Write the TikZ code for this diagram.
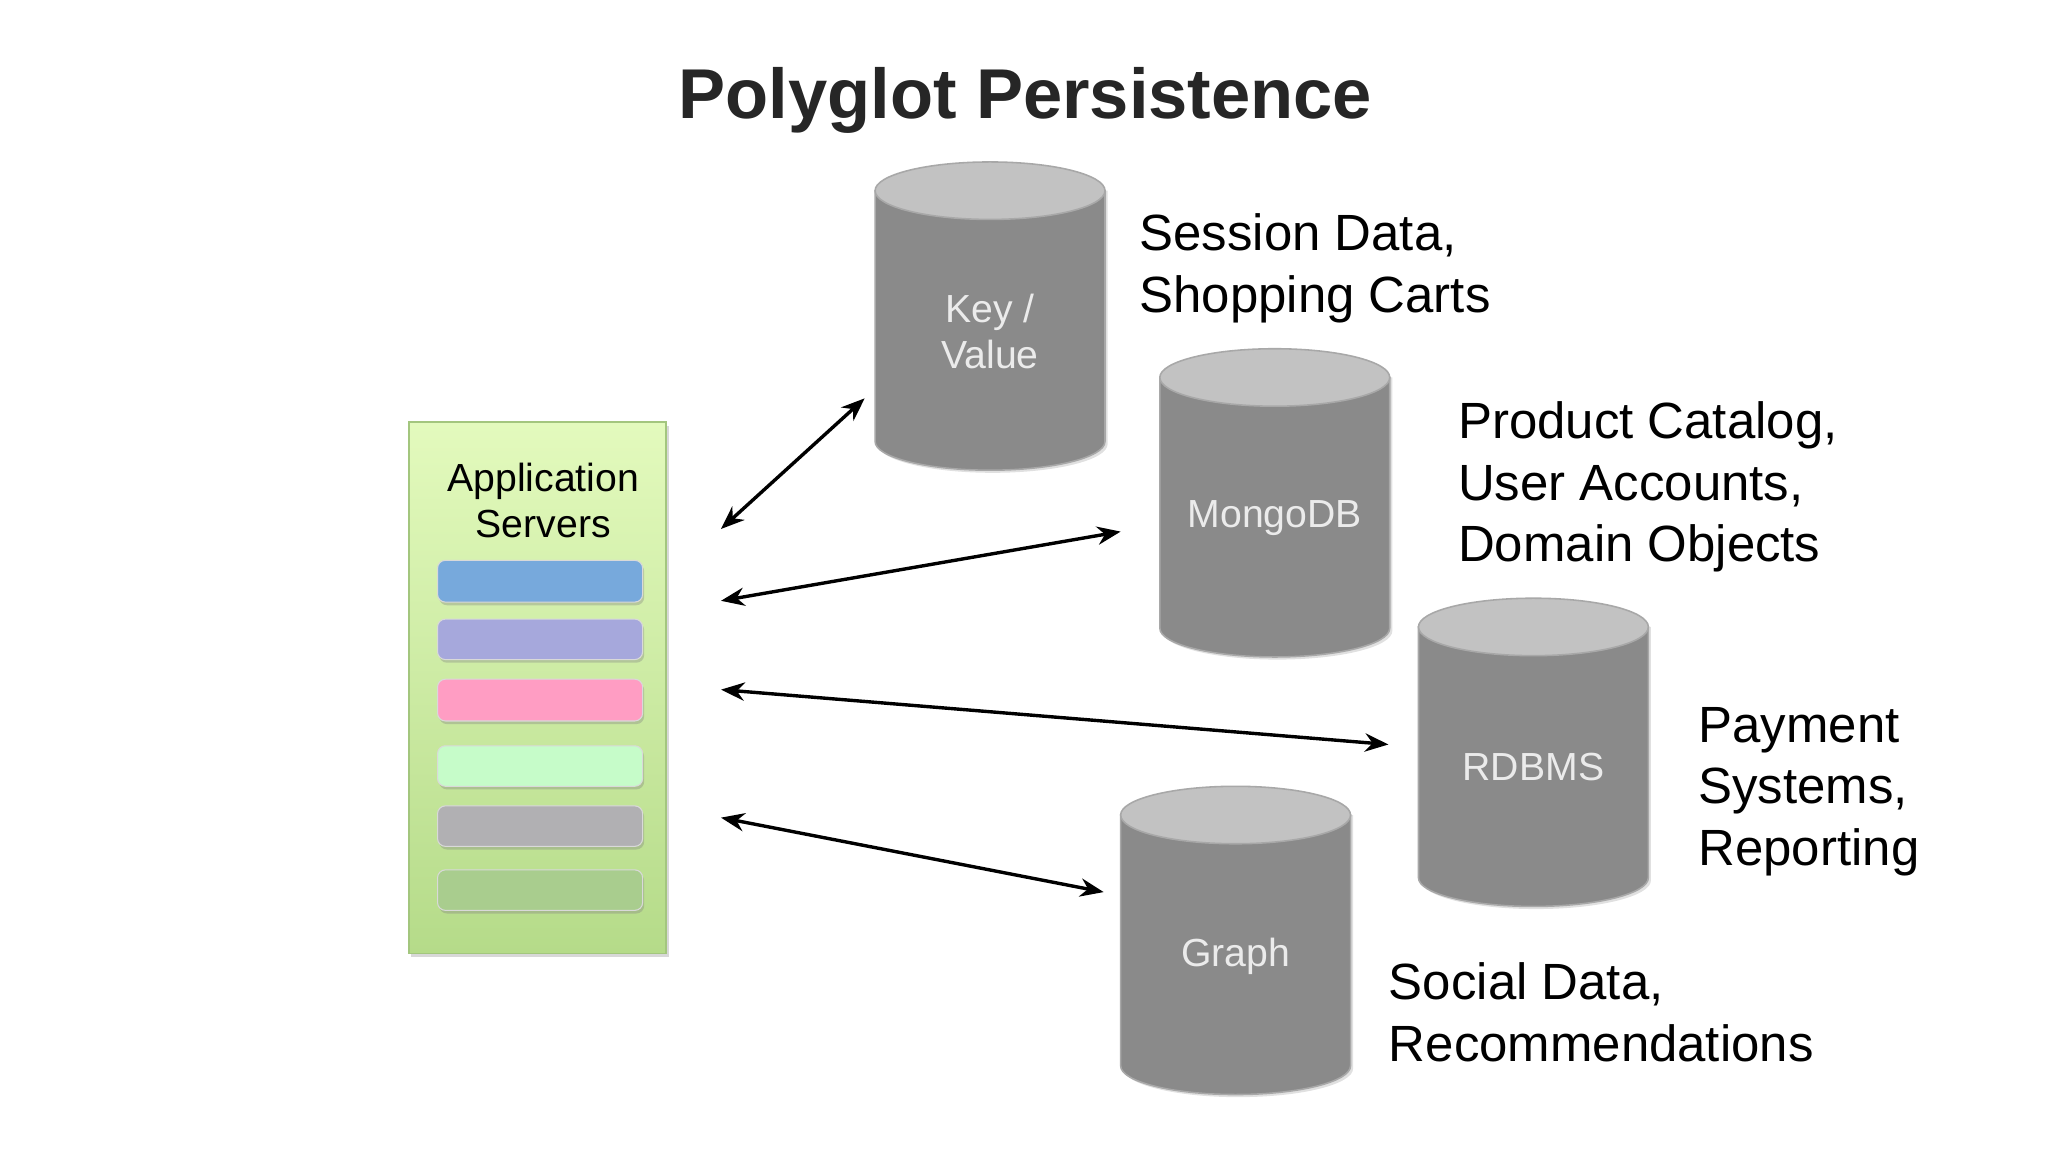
\documentclass[tikz,border=0pt]{standalone}
\usepackage{fontspec}
\setmainfont{Liberation Sans}
\usetikzlibrary{arrows.meta,shadows}
\definecolor{cylbody}{HTML}{8A8A8A}
\definecolor{cyltop}{HTML}{C2C2C2}
\definecolor{cylline}{HTML}{A8A8A8}
\definecolor{boxtop}{HTML}{E3FABD}
\definecolor{boxbot}{HTML}{B5DB89}
\definecolor{boxline}{HTML}{A3C67E}
\tikzset{
  x=0.5pt,y=-0.5pt,
  conn/.style={{Stealth[length=9pt,width=7pt]}-{Stealth[length=9pt,width=7pt]},line width=1.3pt,black},
  bar/.style={rounded corners=3pt,draw=black!15,line width=0.4pt,drop shadow={shadow xshift=0.6pt,shadow yshift=-1.2pt,opacity=0.35}},
  lbl/.style={font=\fontsize{19.5}{23.5}\selectfont,align=left,anchor=west,inner sep=0pt},
  cyltxt/.style={font=\fontsize{15}{17.5}\selectfont,text=white!92!black,align=center,inner sep=0pt},
}
\newcommand{\dbcyl}[5]{% name, cx, top ellipse centre y, label y, text
  \fill[black,opacity=0.12] (#2-86,#3) -- (#2-86,#3+194) arc[start angle=180,end angle=0,x radius=88,y radius=22] -- (#2+90,#3) -- cycle;
  \draw[cylline,fill=cylbody,line width=0.6pt] (#2-88,#3) -- (#2-88,#3+192) arc[start angle=180,end angle=0,x radius=88,y radius=22] -- (#2+88,#3) -- cycle;
  \draw[cylline,fill=cyltop,line width=0.6pt] (#2,#3) ellipse[x radius=88,y radius=22];
  \node[cyltxt] (#1) at (#2,#4) {#5};
}
\begin{document}
\begin{tikzpicture}
\useasboundingbox (0,0) rectangle (1568,882);
\fill[white] (0,0) rectangle (1568,882);
\node[font=\fontsize{27}{32}\bfseries\selectfont,text=black!85] (title) at (785,77) {Polyglot Persistence};

% application servers
\shade[top color=boxtop,bottom color=boxbot,drop shadow={shadow xshift=1pt,shadow yshift=-1.5pt,opacity=0.3}] (313,323) rectangle (510,730);
\draw[boxline,line width=0.6pt] (313,323) rectangle (510,730);
\node[font=\fontsize{15}{17.5}\selectfont,align=center] (app) at (416,383) {Application\\Servers};
\path[bar,fill={rgb,255:red,119;green,169;blue,220}] (335,429) rectangle (492,461);
\path[bar,fill={rgb,255:red,166;green,168;blue,220}] (335,474) rectangle (492,505);
\path[bar,fill={rgb,255:red,255;green,157;blue,195}] (335,520) rectangle (492,552);
\path[bar,fill={rgb,255:red,198;green,252;blue,201}] (335,571) rectangle (492,602);
\path[bar,fill={rgb,255:red,177;green,176;blue,179}] (335,617) rectangle (492,648);
\path[bar,fill={rgb,255:red,169;green,205;blue,142}] (335,666) rectangle (492,697);

% databases
\dbcyl{kv}{758}{146}{254}{Key /\\Value}
\dbcyl{mongo}{976}{289}{397}{MongoDB}
\dbcyl{rdbms}{1174}{480}{587}{RDBMS}
\dbcyl{graph}{946}{624}{732}{Graph}

% labels
\node[lbl] (l1) at (872,205.5) {Session Data,\\Shopping Carts};
\node[lbl] (l2) at (1116,373) {Product Catalog,\\User Accounts,\\Domain Objects};
\node[lbl] (l3) at (1300,606) {Payment\\Systems,\\Reporting};
\node[lbl] (l4) at (1063,775) {Social Data,\\Recommendations};

% connectors
\coordinate (a1) at (552,405); \coordinate (b1) at (662,305);
\coordinate (a2) at (552,460); \coordinate (b2) at (858,407);
\coordinate (a3) at (552,528); \coordinate (b3) at (1063,570);
\coordinate (a4) at (552,626); \coordinate (b4) at (845,683);
\draw[conn] (a1) -- (b1);
\draw[conn] (a2) -- (b2);
\draw[conn] (a3) -- (b3);
\draw[conn] (a4) -- (b4);
\end{tikzpicture}
\end{document}
